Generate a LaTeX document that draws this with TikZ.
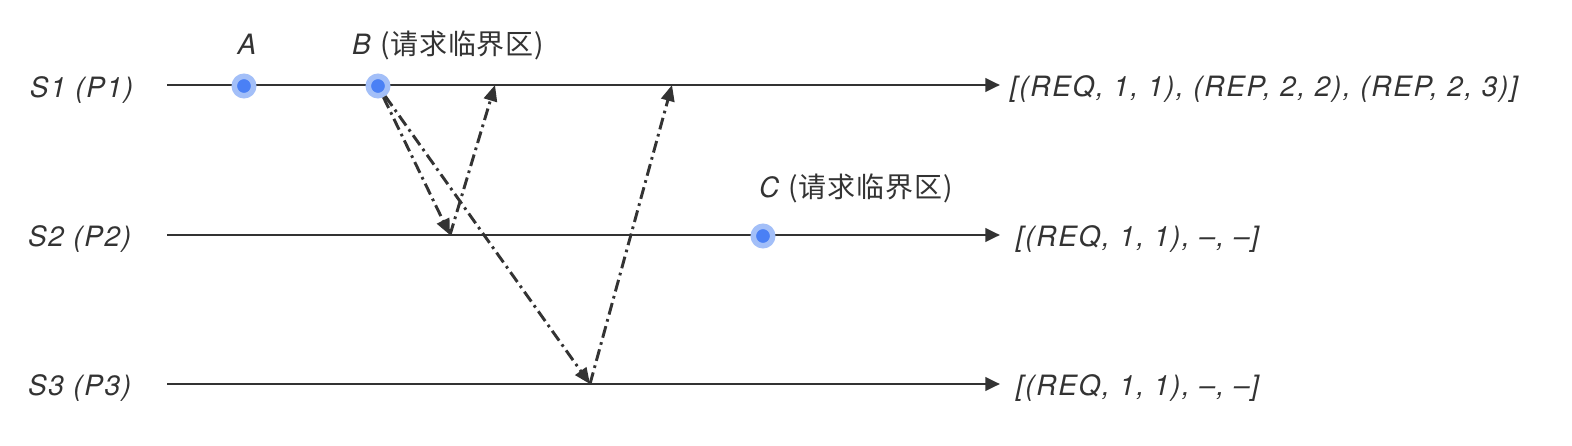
\documentclass[tikz,border=0pt]{standalone}
\usepackage{fontspec}
\setmainfont{TeX Gyre Heros}
\newfontfamily\lblfont[LetterSpace=6]{TeX Gyre Heros}
\newfontfamily\cjk[LetterSpace=3]{Noto Sans CJK SC}
\usetikzlibrary{arrows.meta}
\definecolor{ink}{HTML}{333333}
\definecolor{dotin}{HTML}{4A80F5}
\definecolor{dotout}{HTML}{A3BFF8}
\begin{document}
\begin{tikzpicture}[x=0.75pt,y=-0.75pt,
  lbl/.style={inner sep=0pt, outer sep=0pt, text=ink, font=\lblfont\fontsize{21}{25}\selectfont\itshape},
  timeline/.style={draw=ink, line width=2.1pt, -{Triangle[length=11pt,width=10pt]}},
  msg/.style={draw=ink, line width=2.2pt, dash pattern=on 9pt off 3.5pt on 2pt off 3.5pt, -{Triangle[length=12pt,width=10pt]}},
  dotnode/.style={circle, inner sep=0pt, minimum size=14.6pt, fill=dotin, draw=dotout, line width=4.1pt}]
\useasboundingbox[fill=white] (0,0) rectangle (1572,446);
% process labels
\node[lbl, anchor=base west] (l1) at (30,97) {S1 (P1)};
\node[lbl, anchor=base west] (l2) at (28,246) {S2 (P2)};
\node[lbl, anchor=base west] (l3) at (28,395) {S3 (P3)};
% time lines
\coordinate (s1a) at (167,85);  \coordinate (s1b) at (1000,85);
\coordinate (s2a) at (167,235); \coordinate (s2b) at (1000,235);
\coordinate (s3a) at (167,384); \coordinate (s3b) at (1000,384);
\draw[timeline] (s1a) -- (s1b);
\draw[timeline] (s2a) -- (s2b);
\draw[timeline] (s3a) -- (s3b);
% queues
\node[lbl, anchor=base west] (q1) at (1010,96) {[(REQ, 1, 1), (REP, 2, 2), (REP, 2, 3)]};
\node[lbl, anchor=base west] (q2) at (1016,246) {[(REQ, 1, 1), –, –]};
\node[lbl, anchor=base west] (q3) at (1016,395) {[(REQ, 1, 1), –, –]};
% events
\node[dotnode] (A) at (244,86) {};
\node[dotnode] (B) at (378,86) {};
\node[dotnode] (C) at (763,236) {};
\node[lbl, anchor=base] (la) at (247,55) {A};
\node[lbl, anchor=base west] (lb) at (352,55) {B {\cjk\upshape (请求临界区)}};
\node[lbl, anchor=base west] (lc) at (759,197) {C {\cjk\upshape (请求临界区)}};
% messages
\coordinate (m1) at (450,235);
\coordinate (r1) at (495,85);
\coordinate (m2) at (590,384);
\coordinate (r2) at (672,85);
\draw[msg] (B) -- (m1);
\draw[msg] (m1) -- (r1);
\draw[msg] (B) -- (m2);
\draw[msg] (m2) -- (r2);
\end{tikzpicture}
\end{document}
